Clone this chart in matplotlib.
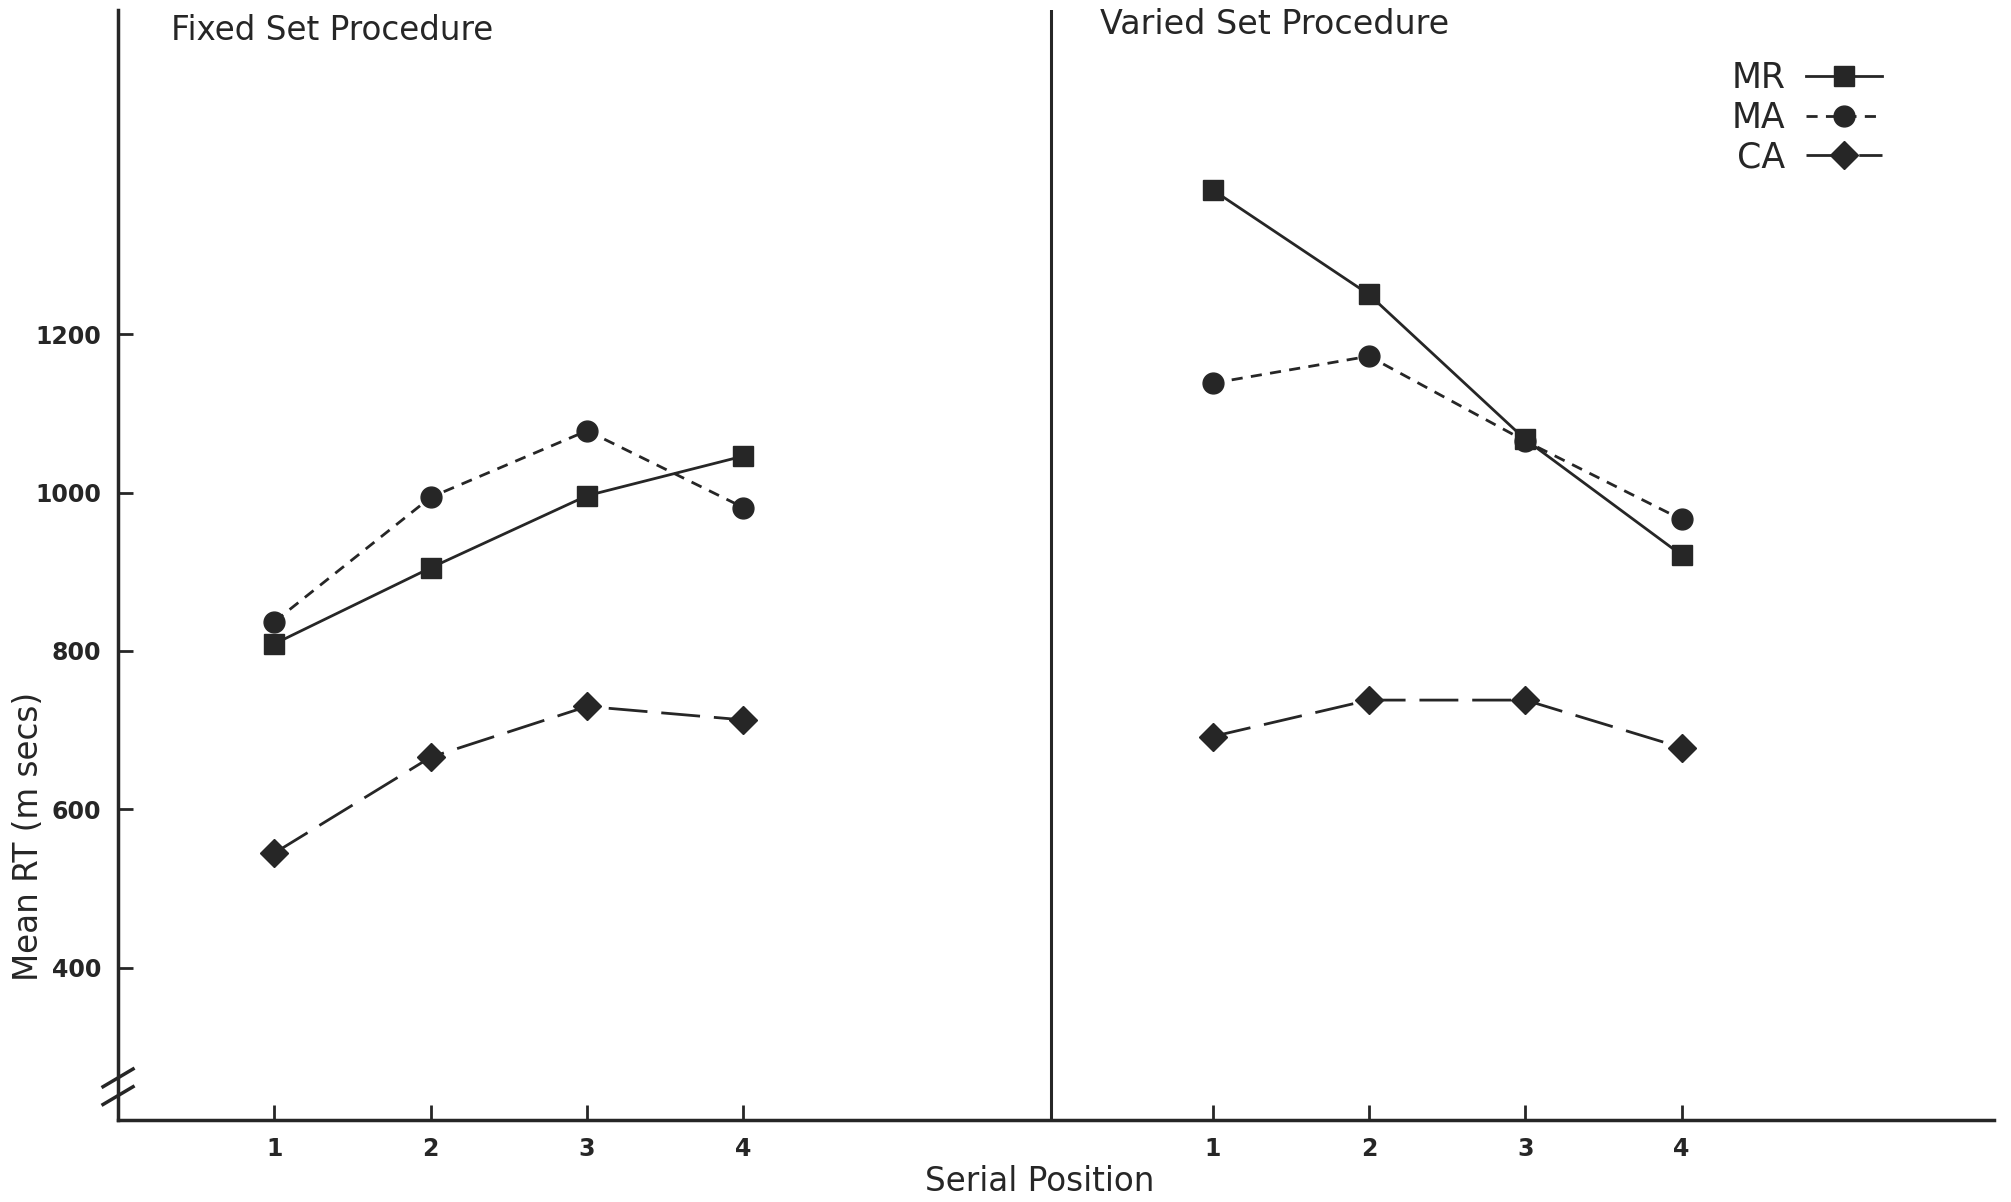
import matplotlib
matplotlib.use("Agg")
import matplotlib.pyplot as plt

positions = [1, 2, 3, 4]
pos_labels = ["1", "2", "3", "4"]

# mean RT (ms) by serial position
fixed_mr = [809, 905, 996, 1046]
fixed_ma = [837, 994, 1078, 981]
fixed_ca = [545, 666, 730, 713]

varied_mr = [1382, 1250, 1067, 921]
varied_ma = [1138, 1172, 1065, 966]
varied_ca = [692, 738, 738, 678]

y_ticks = [400, 600, 800, 1000, 1200]

# varied-set panel sits 6 units to the right on the shared x axis
offset = 6
divider = 5.97
ink = "#262626"

plt.rcParams['font.family'] = ['DejaVu Sans']

fig = plt.figure(figsize=(20.11, 12.02), dpi=100)
ax = fig.add_axes([0.0587, 0.0682, 0.933, 0.9235])

styles = {
    "MR": dict(marker="s", linestyle="-", markersize=15),
    "MA": dict(marker="o", linestyle=(0, (4, 3)), markersize=15),
    "CA": dict(marker="D", linestyle=(0, (14, 5)), markersize=14),
}

series = [("MR", fixed_mr, varied_mr), ("MA", fixed_ma, varied_ma), ("CA", fixed_ca, varied_ca)]
for name, fixed, varied in series:
    st = styles[name]
    ax.plot(positions, fixed, color=ink, lw=2.0, **st, label=name)
    ax.plot([p + offset for p in positions], varied, color=ink, lw=2.0, **st)

ax.axvline(divider, color=ink, lw=2.2)

ax.set_xlim(0, 12)
ax.set_ylim(208, 1609)
ax.set_xticks(positions + [p + offset for p in positions])
ax.set_xticklabels(pos_labels * 2)
ax.set_yticks(y_ticks)
ax.tick_params(direction="in", length=11, width=2, colors=ink, labelsize=17, pad=12)
for lbl in ax.get_xticklabels() + ax.get_yticklabels():
    lbl.set_fontweight("bold")

for side in ("top", "right"):
    ax.spines[side].set_visible(False)
for side in ("left", "bottom"):
    ax.spines[side].set_linewidth(2.5)
    ax.spines[side].set_color(ink)

# axis break marks on the y axis
for yb in (0.022, 0.038):
    ax.plot([-0.008, 0.008], [yb - 0.008, yb + 0.008], transform=ax.transAxes,
            color=ink, lw=2.5, clip_on=False)

ax.text(0.028, 0.996, "Fixed Set Procedure", transform=ax.transAxes, fontsize=23.5,
        color=ink, va="top", ha="left")
ax.text(0.5236, 1.002, "Varied Set Procedure", transform=ax.transAxes, fontsize=24,
        color=ink, va="top", ha="left")

fig.text(0.014, 0.304, "Mean RT (m secs)", rotation=90, fontsize=23.5, color=ink,
         ha="center", va="center")
fig.text(0.517, 0.017, "Serial Position", fontsize=23.5, color=ink, ha="center", va="center")

leg = ax.legend(loc="upper right", bbox_to_anchor=(0.957, 0.982), frameon=False,
                markerfirst=False, fontsize=25, handlelength=2.2, labelspacing=0.16,
                handletextpad=0.6)
for t in leg.get_texts():
    t.set_color(ink)

fig.savefig("out.png", dpi=100, facecolor="white")
